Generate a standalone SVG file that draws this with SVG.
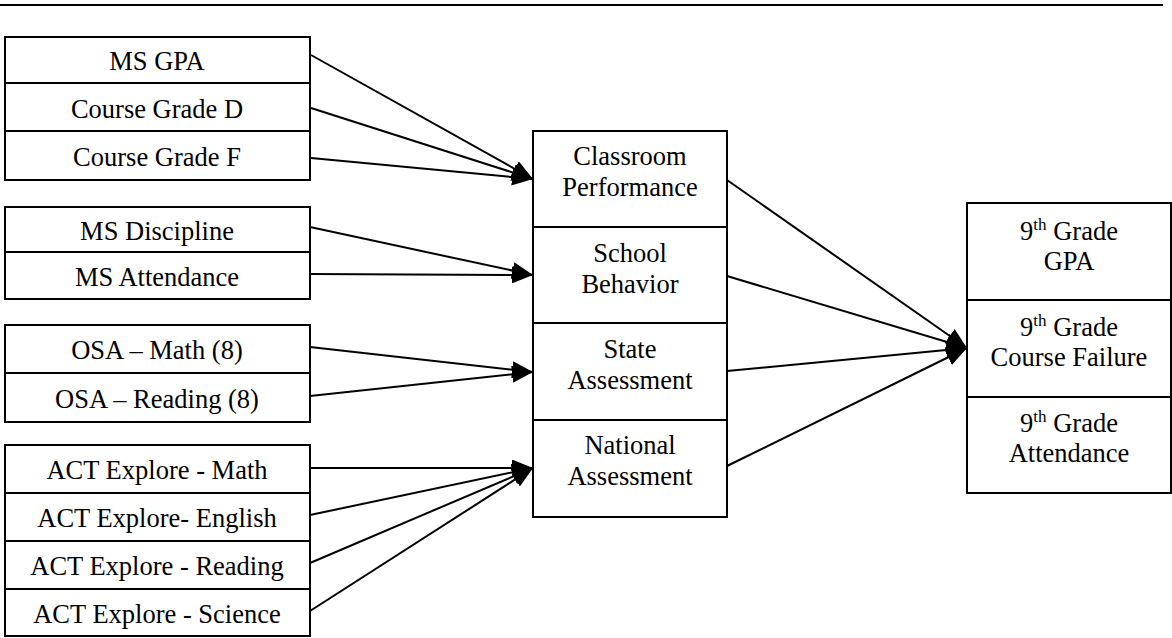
<svg xmlns="http://www.w3.org/2000/svg" width="1172" height="638" viewBox="0 0 1172 638">
<style>
.box{fill:#fff;stroke:#000;stroke-width:2}
.t{font-family:"Liberation Serif","Times New Roman",serif;font-size:26.5px;fill:#000;text-anchor:middle}
.sup{font-size:17px}
.c{stroke:#000;stroke-width:2;fill:none;marker-end:url(#ah)}
</style>
<defs>
<marker id="ah" markerUnits="userSpaceOnUse" markerWidth="21" markerHeight="17" refX="21" refY="8.5" orient="auto" viewBox="0 0 21 17">
<path d="M0,0 L21,8.5 L0,17 z" fill="#000"/>
</marker>
</defs>
<rect width="1172" height="638" fill="#fff"/>
<line x1="0" y1="5" x2="1163" y2="5" stroke="#000" stroke-width="2"/>

<g id="ms-gpa"><rect class="box" x="5" y="37" width="305" height="46"/><text class="t" x="157" y="70">MS GPA</text></g>
<g id="course-grade-d"><rect class="box" x="5" y="83" width="305" height="48"/><text class="t" x="157" y="118">Course Grade D</text></g>
<g id="course-grade-f"><rect class="box" x="5" y="131" width="305" height="49"/><text class="t" x="157" y="166">Course Grade F</text></g>

<g id="ms-discipline"><rect class="box" x="5" y="207" width="305" height="45"/><text class="t" x="157" y="240">MS Discipline</text></g>
<g id="ms-attendance"><rect class="box" x="5" y="252" width="305" height="47"/><text class="t" x="157" y="286">MS Attendance</text></g>

<g id="osa-math"><rect class="box" x="5" y="325" width="305" height="48"/><text class="t" x="157" y="359">OSA – Math (8)</text></g>
<g id="osa-reading"><rect class="box" x="5" y="373" width="305" height="49"/><text class="t" x="157" y="408">OSA – Reading (8)</text></g>

<g id="act-math"><rect class="box" x="5" y="445" width="305" height="48"/><text class="t" x="157" y="479">ACT Explore - Math</text></g>
<g id="act-english"><rect class="box" x="5" y="493" width="305" height="48"/><text class="t" x="157" y="527">ACT Explore- English</text></g>
<g id="act-reading"><rect class="box" x="5" y="541" width="305" height="48"/><text class="t" x="157" y="575">ACT Explore - Reading</text></g>
<g id="act-science"><rect class="box" x="5" y="589" width="305" height="47"/><text class="t" x="157" y="623">ACT Explore - Science</text></g>

<g id="classroom-performance"><rect class="box" x="533" y="131" width="194" height="96"/><text class="t" x="630" y="165">Classroom</text><text class="t" x="630" y="196">Performance</text></g>
<g id="school-behavior"><rect class="box" x="533" y="227" width="194" height="96"/><text class="t" x="630" y="262">School</text><text class="t" x="630" y="293">Behavior</text></g>
<g id="state-assessment"><rect class="box" x="533" y="323" width="194" height="97"/><text class="t" x="630" y="358">State</text><text class="t" x="630" y="389">Assessment</text></g>
<g id="national-assessment"><rect class="box" x="533" y="420" width="194" height="97"/><text class="t" x="630" y="454">National</text><text class="t" x="630" y="485">Assessment</text></g>

<g id="grade9-gpa"><rect class="box" x="967" y="203" width="204" height="97"/><text class="t" x="1069" y="240">9<tspan class="sup" dy="-10">th</tspan><tspan dy="10"> Grade</tspan></text><text class="t" x="1069" y="270">GPA</text></g>
<g id="grade9-failure"><rect class="box" x="967" y="300" width="204" height="97"/><text class="t" x="1069" y="336">9<tspan class="sup" dy="-10">th</tspan><tspan dy="10"> Grade</tspan></text><text class="t" x="1069" y="366">Course Failure</text></g>
<g id="grade9-attendance"><rect class="box" x="967" y="397" width="204" height="96"/><text class="t" x="1069" y="432">9<tspan class="sup" dy="-10">th</tspan><tspan dy="10"> Grade</tspan></text><text class="t" x="1069" y="462">Attendance</text></g>

<g id="connectors">
<line class="c" x1="311" y1="55" x2="533" y2="179"/>
<line class="c" x1="311" y1="108" x2="533" y2="179"/>
<line class="c" x1="311" y1="158" x2="533" y2="179"/>
<line class="c" x1="310" y1="227" x2="533" y2="275"/>
<line class="c" x1="310" y1="274" x2="533" y2="275"/>
<line class="c" x1="310" y1="347" x2="533" y2="372"/>
<line class="c" x1="310" y1="396" x2="533" y2="372"/>
<line class="c" x1="310" y1="468" x2="533" y2="468"/>
<line class="c" x1="310" y1="515" x2="533" y2="468"/>
<line class="c" x1="310" y1="563" x2="533" y2="468"/>
<line class="c" x1="310" y1="611" x2="533" y2="468"/>
<line class="c" x1="727" y1="180" x2="967" y2="348"/>
<line class="c" x1="727" y1="276" x2="967" y2="348"/>
<line class="c" x1="727" y1="371" x2="967" y2="348"/>
<line class="c" x1="727" y1="466" x2="967" y2="348"/>
</g>
</svg>
